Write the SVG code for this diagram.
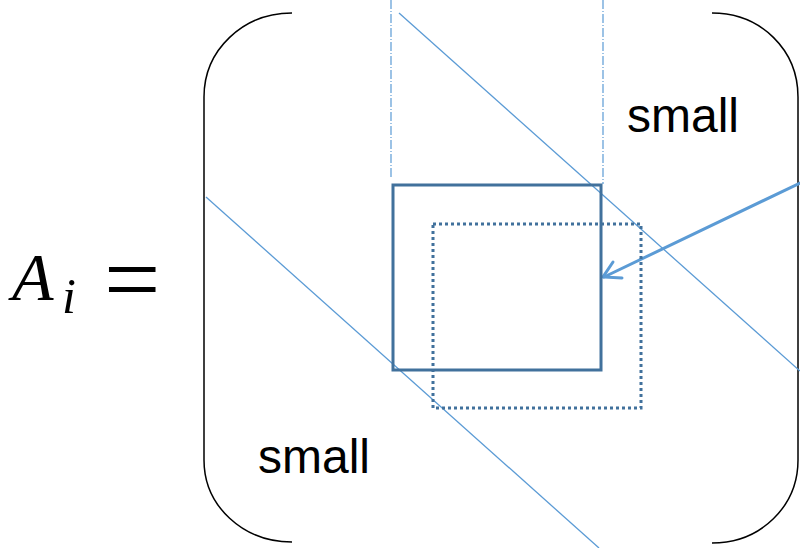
<svg xmlns="http://www.w3.org/2000/svg" width="800" height="548" viewBox="0 0 800 548">
<style>
.br{fill:none;stroke:#000;stroke-width:1.5}
.guide{stroke:#5B9BD5;stroke-width:1.2;stroke-dasharray:9 2 1 2;fill:none}
.diag{stroke:#5B9BD5;stroke-width:1.3;fill:none}
.lbl{font-family:"Liberation Sans",Arial,sans-serif;font-size:48px;fill:#000}
.math{font-family:"Liberation Serif","Times New Roman",serif;fill:#000}
</style>
<rect width="800" height="548" fill="#fff"/>
<g id="label-Ai">
<text class="math" x="12" y="300" font-size="68" font-style="italic">A</text>
<text class="math" x="62" y="313" font-size="50" font-style="italic">i</text>
<text class="math" x="104" y="313" font-size="100">=</text>
</g>
<g id="bracket-left"><path class="br" d="M292,13 C243,13 204,50 204,97 V460 C204,506 243,542 292,542"/></g>
<g id="bracket-right"><path class="br" d="M712,13 C761,13 798,50 798,97 V460 C798,506 761,543 712,543"/></g>
<g id="connectors">
<line class="guide" x1="391" y1="0" x2="391" y2="178"/>
<line class="guide" x1="603" y1="0" x2="603" y2="184"/>
<line class="diag" x1="399" y1="13" x2="800" y2="371"/>
<line class="diag" x1="206" y1="197" x2="599" y2="548"/>
<g stroke="#5B9BD5" stroke-width="3" fill="none" stroke-linecap="round">
<line x1="800" y1="183" x2="604" y2="277"/>
<polyline points="613,262 603,277 622,278"/>
</g>
</g>
<g id="block-solid"><rect x="393" y="185" width="208" height="185" fill="none" stroke="#41719C" stroke-width="3"/></g>
<g id="block-dotted"><rect x="433" y="224" width="208" height="184" fill="none" stroke="#41719C" stroke-width="3" stroke-dasharray="3 3"/></g>
<g id="label-small-top"><text class="lbl" x="627" y="132">small</text></g>
<g id="label-small-bottom"><text class="lbl" x="258" y="473">small</text></g>
</svg>
